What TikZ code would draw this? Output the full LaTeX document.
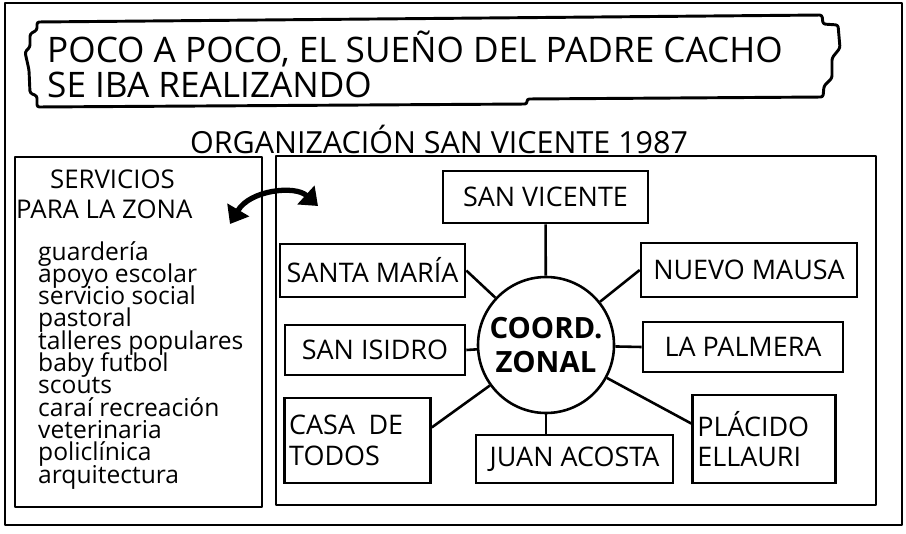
\documentclass[tikz,border=0pt]{standalone}
\usepackage{fontspec}
\setmainfont{Open Sans}
\usetikzlibrary{arrows.meta}

\tikzset{
  frameline/.style={line width=2.5pt, line cap=round, line join=round},
  barrio/.style={draw, line width=2.2pt, inner sep=4pt, font=\fontsize{23}{26}\selectfont},
  spoke/.style={line width=2.2pt},
  servicio/.style={anchor=base west, inner sep=0pt, font=\fontsize{21}{21}\selectfont},
  rotulo/.style={anchor=base west, inner sep=0pt},
}

\begin{document}
\begin{tikzpicture}[x=0.03cm, y=-0.03cm]
\useasboundingbox (0,0) rectangle (906,533);
\draw[frameline] (5,3) rectangle (902,525);

% globo del titulo
\draw[frameline, rounded corners=2pt] (37,22) -- (822,15) -- (823,24) -- (838,25) -- (840,48) -- (832,58)
  -- (832,78) -- (824,86) -- (823,97) -- (527,99) -- (527,104) -- (37,107) -- (37,96) -- (30,93)
  -- (29,70) -- (25,52) -- (30,47) -- (30,34) -- (37,30) -- cycle;
\node[rotulo, font=\fontsize{30}{30}\selectfont] (titulo) at (47,62) {POCO A POCO, EL SUEÑO DEL PADRE CACHO};
\node[rotulo, font=\fontsize{30}{30}\selectfont] (titulob) at (47,97) {SE IBA REALIZANDO};
\node[anchor=base, inner sep=0pt, font=\fontsize{26}{26}\selectfont] (organizacion) at (439,153) {ORGANIZACIÓN SAN VICENTE 1987};

% paneles
\draw[frameline] (15,157) rectangle (262,507);
\draw[frameline] (276,156) rectangle (876,505);

% servicios
\node[rotulo, font=\fontsize{22}{22}\selectfont] (servicios) at (50,188) {SERVICIOS};
\node[rotulo, font=\fontsize{22}{22}\selectfont] (paralazona) at (16,218) {PARA LA ZONA};
\foreach \item [count=\k] in {guardería, apoyo escolar, servicio social, pastoral, talleres populares,
  baby futbol, scouts, caraí recreación, veterinaria, policlínica, arquitectura}
  \node[servicio] (serv\k) at (38,237.7+22.3*\k) {\item};

\coordinate (flechaizq) at (230,224);
\coordinate (flechader) at (318,206);
\draw[line width=4.5pt, {Triangle[length=14pt,width=21pt]}-{Triangle[length=14pt,width=21pt]}]
  (flechaizq) .. controls (250,190) and (295,185) .. (flechader);

% barrios
\node[barrio, minimum width=6.15cm, minimum height=1.56cm] (sanvicente) at (545.5,197) {SAN VICENTE};
\node[barrio, minimum width=5.55cm, minimum height=1.59cm] (santamaria) at (372.5,270.5) {SANTA MARÍA};
\node[barrio, minimum width=6.48cm, minimum height=1.62cm] (nuevomausa) at (749,270) {NUEVO MAUSA};
\node[barrio, minimum width=5.4cm, minimum height=1.5cm] (sanisidro) at (375,350) {SAN ISIDRO};
\node[barrio, minimum width=6cm, minimum height=1.5cm] (lapalmera) at (743,347) {LA PALMERA};
\node[barrio, align=left, text width=4.1cm, minimum height=2.55cm] (casatodos) at (357.5,440.5) {CASA\enspace DE\\TODOS};
\node[barrio, minimum width=5.91cm, minimum height=1.44cm] (juanacosta) at (574.5,459) {JUAN ACOSTA};
\node[barrio, align=left, text width=4cm, minimum height=2.64cm] (placido) at (764,439) {PLÁCIDO\\ELLAURI};
\node[draw, circle, line width=2.2pt, minimum size=4.08cm, inner sep=0pt, align=center,
  font=\fontsize{25}{29}\selectfont\bfseries] (coord) at (546,345) {COORD.\\ZONAL};

\draw[spoke] (sanvicente) -- (coord);
\draw[spoke] (santamaria.east) -- (coord);
\draw[spoke] (nuevomausa.west) -- (coord);
\draw[spoke] (sanisidro.east) -- (coord);
\draw[spoke] (lapalmera.west) -- (coord);
\draw[spoke] (casatodos.10) -- (coord);
\draw[spoke] (coord) -- (coord |- juanacosta.north);
\draw[spoke] (placido.168) -- (coord);
\end{tikzpicture}
\end{document}
